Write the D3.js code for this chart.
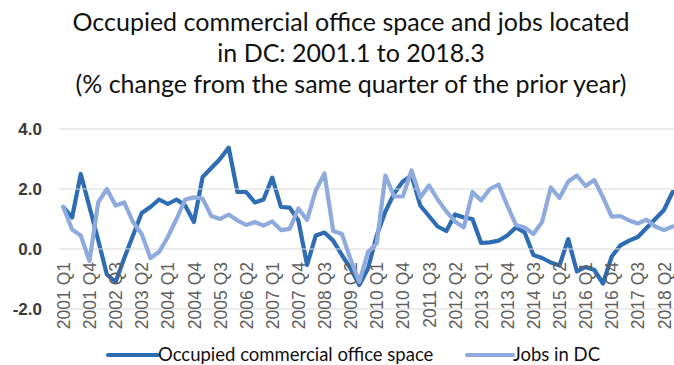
<!DOCTYPE html>
<html>
<head>
<meta charset="utf-8">
<script src="https://cdn.jsdelivr.net/npm/d3@7/dist/d3.min.js"></script>
<style>
  html, body { margin: 0; padding: 0; background: #ffffff; }
  svg { display: block; }
</style>
</head>
<body>
<svg id="chart" width="674" height="365"></svg>
<script>
// Quarter labels, 2001 Q1 through 2018 Q3
const quarters = [];
for (let y = 2001; y <= 2018; y++) {
  for (let q = 1; q <= 4; q++) {
    if (y === 2018 && q > 3) break;
    quarters.push(y + " Q" + q);
  }
}

// Year-over-year % change, occupied commercial office space
const officeSpace = [
  1.40, 1.05, 2.50, 1.40, 0.30, -0.85, -1.10, -0.30, 0.45, 1.20,
  1.40, 1.65, 1.50, 1.65, 1.45, 0.90, 2.40, 2.70, 3.00, 3.38,
  1.90, 1.90, 1.55, 1.65, 2.38, 1.40, 1.38, 0.95, -0.53, 0.45,
  0.55, 0.28, -0.20, -0.65, -1.20, -0.65, 0.45, 1.25, 1.85, 2.25,
  2.45, 1.45, 1.10, 0.75, 0.60, 1.15, 1.05, 1.00, 0.20, 0.22,
  0.28, 0.45, 0.72, 0.55, -0.20, -0.30, -0.45, -0.55, 0.33, -0.75,
  -0.60, -0.70, -1.15, -0.25, 0.12, 0.28, 0.40, 0.70, 1.00, 1.30,
  1.90
];

// Year-over-year % change, jobs located in DC
const jobsDC = [
  1.40, 0.65, 0.45, -0.40, 1.55, 2.00, 1.45, 1.55, 0.90, 0.50,
  -0.30, -0.10, 0.40, 1.00, 1.65, 1.72, 1.68, 1.10, 1.00, 1.15,
  0.95, 0.80, 0.90, 0.78, 0.92, 0.63, 0.67, 1.35, 0.97, 1.95,
  2.52, 0.60, 0.50, -0.35, -1.10, -0.10, 0.18, 2.45, 1.75, 1.75,
  2.62, 1.72, 2.12, 1.65, 1.25, 0.92, 0.72, 1.90, 1.62, 2.00,
  2.15, 1.45, 0.80, 0.72, 0.50, 0.90, 2.05, 1.70, 2.25, 2.45,
  2.10, 2.30, 1.72, 1.08, 1.10, 0.95, 0.85, 0.98, 0.75, 0.63,
  0.75
];

const yTicks = [-2, 0, 2, 4];
const titleLines = [
  "Occupied commercial office space and jobs located",
  "in DC: 2001.1 to 2018.3",
  "(% change from the same quarter of the prior year)"
];
const seriesNames = ["Occupied commercial office space", "Jobs in DC"];
const seriesColors = ["#2E6DB4", "#8FAADC"];

const svg = d3.select("#chart");
const plot = { left: 59, right: 677, top: 129, bottom: 309 };

const x = d3.scalePoint()
  .domain(d3.range(quarters.length))
  .range([plot.left, plot.right])
  .padding(0.5);

const y = d3.scaleLinear()
  .domain([-2, 4])
  .range([plot.bottom, plot.top]);

// Title
const title = svg.append("g")
  .attr("font-family", "Lato, 'Open Sans', sans-serif")
  .attr("font-size", 25)
  .attr("fill", "#111111")
  .attr("text-anchor", "middle");
titleLines.forEach((t, i) => {
  title.append("text")
    .attr("x", 351)
    .attr("y", 31 + i * 31)
    .text(t);
});

// Horizontal gridlines
svg.append("g")
  .selectAll("line")
  .data(yTicks)
  .join("line")
  .attr("x1", plot.left)
  .attr("x2", plot.right)
  .attr("y1", d => y(d))
  .attr("y2", d => y(d))
  .attr("stroke", "#d9d9d9")
  .attr("stroke-width", 1.2);

// Value axis labels
const yAxis = d3.axisLeft(y)
  .tickValues(yTicks)
  .tickFormat(d => d.toFixed(1))
  .tickSize(0)
  .tickPadding(0);
const yG = svg.append("g")
  .attr("transform", "translate(42,0)")
  .call(yAxis);
yG.select(".domain").remove();
yG.selectAll("text")
  .attr("font-family", "'Liberation Sans', Arial, sans-serif")
  .attr("font-size", 17)
  .attr("font-weight", "bold")
  .attr("fill", "#3a3a3a");

// Category axis labels, every third quarter, sitting at the zero line
const xAxis = d3.axisBottom(x)
  .tickValues(d3.range(0, quarters.length, 3))
  .tickFormat(i => quarters[i])
  .tickSize(0)
  .tickPadding(0);
const xG = svg.append("g")
  .attr("transform", `translate(0,${y(0)})`)
  .call(xAxis);
xG.select(".domain").remove();
xG.selectAll("text")
  .attr("font-family", "'Liberation Sans', Arial, sans-serif")
  .attr("font-size", 17.5)
  .attr("fill", "#5f5f5f")
  .attr("text-anchor", "end")
  .attr("dy", "0.35em")
  .attr("transform", "translate(0,13) rotate(-90)")
  .attr("x", 0)
  .attr("y", 0);

// Series lines
const line = d3.line()
  .x((d, i) => x(i))
  .y(d => y(d));

[officeSpace, jobsDC].forEach((vals, k) => {
  svg.append("path")
    .datum(vals)
    .attr("d", line)
    .attr("fill", "none")
    .attr("stroke", seriesColors[k])
    .attr("stroke-width", 4.2)
    .attr("stroke-linejoin", "round")
    .attr("stroke-linecap", "round");
});
// the office-space line is drawn under the jobs line
svg.selectAll("path").filter((d, i) => i === 0).lower();

// Legend
const legend = svg.append("g")
  .attr("font-family", "Lato, 'Open Sans', sans-serif")
  .attr("font-size", 18.5)
  .attr("fill", "#111111");
const legendItems = [
  { swatch: [108, 158], textX: 158 },
  { swatch: [467, 513], textX: 513 }
];
legendItems.forEach((item, k) => {
  legend.append("line")
    .attr("x1", item.swatch[0])
    .attr("x2", item.swatch[1])
    .attr("y1", 355)
    .attr("y2", 355)
    .attr("stroke", seriesColors[k])
    .attr("stroke-width", 4.2)
    .attr("stroke-linecap", "round");
  legend.append("text")
    .attr("x", item.textX)
    .attr("y", 361)
    .text(seriesNames[k]);
});
</script>
</body>
</html>
